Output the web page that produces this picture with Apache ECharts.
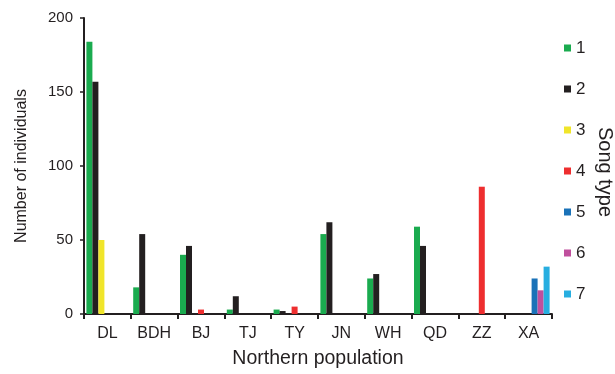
<!DOCTYPE html>
<html><head><meta charset="utf-8">
<script src="https://cdn.jsdelivr.net/npm/echarts@6/dist/echarts.min.js"></script>
<style>html,body{margin:0;padding:0;background:#fff}#c{width:615px;height:374px}</style>
</head><body><div id="c"></div>
<script>
const categories = ['DL','BDH','BJ','TJ','TY','JN','WH','QD','ZZ','XA'];
const songTypes = ['1','2','3','4','5','6','7'];
const type1 = [184, 18, 40, 3, 3, 54, 24, 59, 0, 0];
const type2 = [157, 54, 46, 12, 2, 62, 27, 46, 0, 0];
const type3 = [50, 0, 0, 0, 0, 0, 0, 0, 0, 0];
const type4 = [0, 0, 3, 0, 5, 0, 0, 0, 86, 0];
const type5 = [0, 0, 0, 0, 0, 0, 0, 0, 0, 24];
const type6 = [0, 0, 0, 0, 0, 0, 0, 0, 0, 16];
const type7 = [0, 0, 0, 0, 0, 0, 0, 0, 0, 32];
const yTicks = [0, 50, 100, 150, 200];

const seriesData = [type1, type2, type3, type4, type5, type6, type7];
const colors = ['#1aab4f', '#231f20', '#f0e52a', '#ee2e2f', '#1a72b8', '#c04f9d', '#27aee0'];
const font = 'Liberation Sans, Arial, sans-serif';

const chart = echarts.init(document.getElementById('c'));
chart.setOption({
  animation: false,
  color: colors,
  grid: { left: 84, right: 63, top: 18, bottom: 56.5, containLabel: false },
  legend: {
    orient: 'vertical', left: 564, top: 39.5, padding: 0,
    icon: 'rect', itemWidth: 7, itemHeight: 7, itemGap: 24, itemStyle: { borderWidth: 0 },
    textStyle: { fontFamily: font, fontSize: 17, color: '#231f20' },
    data: songTypes
  },
  xAxis: {
    type: 'category', data: categories,
    name: 'Northern population', nameLocation: 'middle', nameGap: 35,
    nameTextStyle: { fontFamily: font, fontSize: 19.5, color: '#231f20' },
    axisLine: { lineStyle: { color: '#231f20', width: 2 } },
    axisTick: { show: true, length: 5, lineStyle: { color: '#231f20', width: 2 }, alignWithLabel: false },
    axisLabel: { fontFamily: font, fontSize: 16, color: '#231f20', margin: 12 }
  },
  yAxis: {
    type: 'value', min: yTicks[0], max: yTicks[yTicks.length - 1], interval: 50,
    name: 'Number of individuals', nameLocation: 'middle', nameGap: 54,
    nameTextStyle: { fontFamily: font, fontSize: 16, color: '#231f20' },
    axisLine: { show: true, lineStyle: { color: '#231f20', width: 2 } },
    axisTick: { show: true, length: 4, lineStyle: { color: '#231f20', width: 1.5 } },
    axisLabel: { fontFamily: font, fontSize: 15, color: '#231f20', margin: 11 },
    splitLine: { show: false }
  },
  graphic: [{
    type: 'text', left: 595, top: 127, rotation: -Math.PI / 2,
    style: { text: 'Song type', font: '20px ' + font, fill: '#231f20' }
  }],
  series: seriesData.map((d, i) => ({
    name: songTypes[i], type: 'bar', data: d,
    barWidth: 6, barGap: '0%', itemStyle: { color: colors[i] }
  }))
});
</script></body></html>
